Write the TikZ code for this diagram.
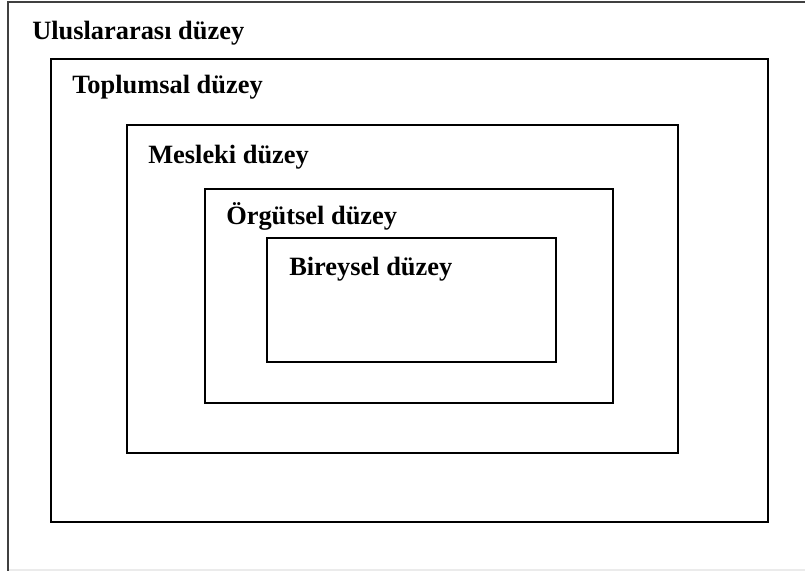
\documentclass[tikz,border=0pt]{standalone}
\usepackage{fontspec}
\setmainfont{Liberation Serif}
\begin{document}
\begin{tikzpicture}[x=0.75pt,y=-0.75pt,
  level/.style={draw=black,line width=1.9pt},
  outerframe/.style={draw=black!75,line width=1.9pt},
  levellabel/.style={anchor=base west,inner sep=0pt,font=\fontsize{19.8}{23}\selectfont\bfseries}]
  \useasboundingbox (0,0) rectangle (805,571);
  % outermost frame: only its top and left sides fall inside the page
  \draw[black!8,line width=0.8pt] (8,570) -- (805,570);
  \draw[outerframe] (805,2) -- (8,2) -- (8,571);
  % nested levels
  \draw[level] (51,59) rectangle (768,522);
  \draw[level] (127,125) rectangle (678,453);
  \draw[level] (205,189) rectangle (613,403);
  \draw[level] (267,238) rectangle (556,362);
  % labels
  \node[levellabel] (intl) at (32,39) {Uluslararası düzey};
  \node[levellabel] (soc)  at (72,93) {Toplumsal düzey};
  \node[levellabel] (prof) at (148,163) {Mesleki düzey};
  \node[levellabel] (org)  at (226,224) {Örgütsel düzey};
  \node[levellabel] (ind)  at (289,275) {Bireysel düzey};
\end{tikzpicture}
\end{document}
